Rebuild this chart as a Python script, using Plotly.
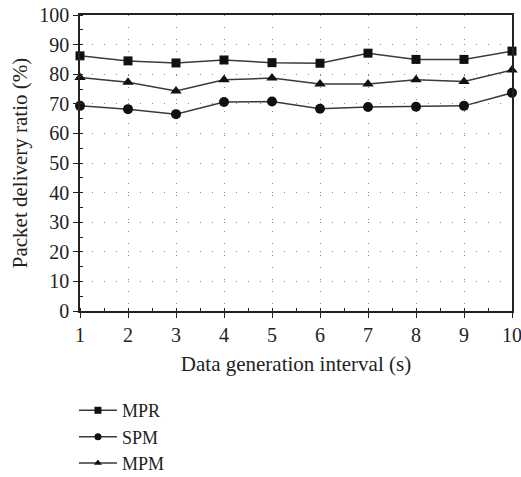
import plotly.graph_objects as go

intervals = [1, 2, 3, 4, 5, 6, 7, 8, 9, 10]
mpr = [86.2, 84.5, 83.8, 84.8, 83.9, 83.7, 87.1, 85.0, 85.0, 87.8]
spm = [69.3, 68.2, 66.5, 70.6, 70.8, 68.3, 68.9, 69.0, 69.3, 73.7]
mpm = [78.9, 77.3, 74.3, 78.1, 78.7, 76.7, 76.7, 78.1, 77.5, 81.4]

FONT = "Liberation Serif"
LINE = "#3a3a3a"
MARK = "#111111"
TXT = "#222222"

series = [("MPR", mpr, "square", 9), ("SPM", spm, "circle", 10), ("MPM", mpm, "triangle-up", 10)]

fig = go.Figure()
for name, vals, sym, sz in series:
    fig.add_trace(go.Scatter(
        x=intervals, y=vals, name=name, mode="lines+markers",
        line=dict(color=LINE, width=1.5),
        marker=dict(symbol=sym, size=sz, color=MARK),
        cliponaxis=False, showlegend=False,
    ))
# legend entries with smaller markers, as in the reference
for name, vals, sym, sz in series:
    fig.add_trace(go.Scatter(
        x=[None], y=[None], name=name, mode="lines+markers",
        line=dict(color=LINE, width=1.5),
        marker=dict(symbol=sym, size=7, color=MARK),
        showlegend=True,
    ))

axis_common = dict(
    showline=True, linecolor=TXT, linewidth=1.5, mirror=True,
    ticks="outside", ticklen=5, tickwidth=1, tickcolor=TXT,
    showgrid=True, gridcolor="#8a8a8a", griddash="1px,11px", gridwidth=1.2,
    zeroline=False, automargin=False, ticklabeloverflow="allow",
    tickfont=dict(family=FONT, size=20, color=TXT),
)

fig.update_xaxes(
    range=[1, 10], tickvals=intervals,
    minor=dict(dtick=0.5, tick0=0.5, ticks="inside", ticklen=3, tickcolor=TXT, showgrid=False),
    title=dict(text="Data generation interval (s)", font=dict(family=FONT, size=21, color=TXT), standoff=12),
    **axis_common,
)
fig.update_yaxes(
    range=[0, 100], dtick=10,
    minor=dict(dtick=5, ticks="inside", ticklen=3, tickcolor=TXT, showgrid=False),
    title=dict(text="Packet delivery ratio (%)", font=dict(family=FONT, size=21, color=TXT), standoff=6),
    **axis_common,
)

fig.update_layout(
    yaxis2=dict(
        overlaying="y", side="right", anchor="x", range=[0, 100], dtick=10,
        ticks="inside", ticklen=5, tickcolor=TXT, showticklabels=False,
        showgrid=False, showline=False, zeroline=False, automargin=False,
        minor=dict(dtick=5, ticks="inside", ticklen=3, tickcolor=TXT),
    ),
)

fig.update_layout(
    width=521, height=477,
    margin=dict(l=80, r=9, t=15, b=166),
    plot_bgcolor="white", paper_bgcolor="white",
    font=dict(family=FONT, color=TXT),
    legend=dict(
        x=-0.014, xanchor="left",
        yref="container", y=0.178, yanchor="top",
        font=dict(family=FONT, size=18, color=TXT),
        tracegroupgap=0, itemwidth=38,
        bgcolor="rgba(0,0,0,0)",
    ),
    showlegend=True,
)

fig.write_html(
    "out.html",
    config={"displayModeBar": False},
    post_script="document.body.style.margin='0';document.body.style.overflow='hidden';",
)
